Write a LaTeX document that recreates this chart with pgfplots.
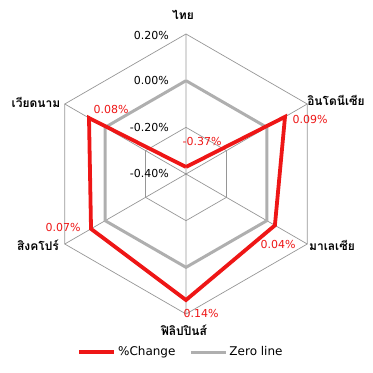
\documentclass[border=0pt]{standalone}
\usepackage{pgfplots}
\pgfplotsset{compat=1.18}
\usepgfplotslibrary{polar}
\usepackage{fontspec}
\setmainfont{DejaVu Sans}
\newfontfamily\thaifont[Script=Thai]{Loma}
\definecolor{gridgray}{RGB}{150,150,150}
\definecolor{zerogray}{RGB}{175,175,175}
\definecolor{chred}{RGB}{238,22,22}
\begin{document}
\begin{tikzpicture}[x=1pt,y=1pt]
\useasboundingbox (0,0) rectangle (373,373);
\begin{polaraxis}[
  at={(186pt,199pt)}, anchor=center,
  width=280pt, height=280pt, scale only axis,
  hide axis, clip=false,
  xmin=0, xmax=360, ymin=0, ymax=0.6,
  y filter/.expression={y+0.4},
  legend columns=2,
  legend style={at={(0.482,-0.136)}, anchor=center, draw=none, fill=none,
    font=\fontsize{12}{14}\selectfont,
    /tikz/every even column/.append style={column sep=12pt}},
  legend image code/.code={\draw[#1] (0pt,0pt) -- (35pt,0pt);},
]
% grid rings
\addplot[gridgray, line width=0.7pt, forget plot] coordinates {(90,0.2)(30,0.2)(-30,0.2)(-90,0.2)(-150,0.2)(150,0.2)(90,0.2)};
\addplot[gridgray, line width=0.7pt, forget plot] coordinates {(90,-0.2)(30,-0.2)(-30,-0.2)(-90,-0.2)(-150,-0.2)(150,-0.2)(90,-0.2)};
\addplot[gridgray, line width=0.7pt, forget plot] coordinates {(90,0.0)(30,0.0)(-30,0.0)(-90,0.0)(-150,0.0)(150,0.0)(90,0.0)};
% spokes
\addplot[gridgray, line width=0.7pt, forget plot] coordinates {(90,0.2)(90,-0.4)(30,0.2)(30,-0.4)(-30,0.2)(-30,-0.4)(-90,0.2)(-90,-0.4)(-150,0.2)(-150,-0.4)(150,0.2)(150,-0.4)};
% zero line
\addplot[zerogray, line width=3pt, forget plot] coordinates {(90,0.00)(30,0.00)(-30,0.00)(-90,0.00)(-150,0.00)(150,0.00)(90,0.00)};
% %Change
\addplot[chred, line width=3.8pt] coordinates {(90,-0.37)(30,0.09)(-30,0.04)(-90,0.14)(-150,0.07)(150,0.08)(90,-0.37)};
\addlegendentry{\%Change}
\addlegendimage{zerogray, line width=3pt}
\addlegendentry{Zero line}
\end{polaraxis}
% radial tick labels
\begin{scope}[every node/.style={font=\fontsize{11}{13}\selectfont, inner sep=0pt}]
\node[anchor=east] at (169,337.5) {0.20\%};
\node[anchor=east] at (169,293) {0.00\%};
\node[anchor=east] at (169,246) {-0.20\%};
\node[anchor=east] at (169,200) {-0.40\%};
\end{scope}
% data labels
\begin{scope}[every node/.style={font=\fontsize{11}{13}\selectfont, inner sep=0pt, text=chred}]
\node at (202,232) {-0.37\%};
\node at (310,254) {0.09\%};
\node at (278,129) {0.04\%};
\node at (201,60) {0.14\%};
\node at (63,146) {0.07\%};
\node at (111,264) {0.08\%};
\end{scope}
% category labels
\begin{scope}[every node/.style={font=\thaifont\bfseries\fontsize{12}{14}\selectfont, inner sep=0pt}]
\node at (183,358) {ไทย};
\node at (336,273) {อินโดนีเซีย};
\node at (332,128) {มาเลเซีย};
\node at (184,43) {ฟิลิปปินส์};
\node at (38,128) {สิงคโปร์};
\node at (36,271) {เวียดนาม};
\end{scope}
\end{tikzpicture}
\end{document}
